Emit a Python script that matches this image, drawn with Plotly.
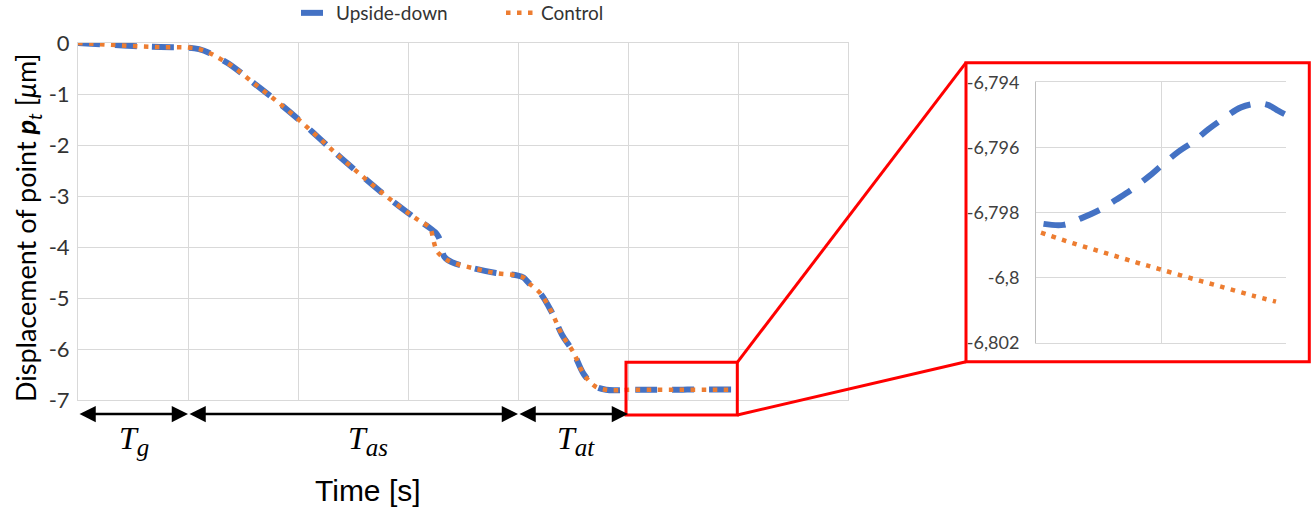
import plotly.graph_objects as go

# ---------------- data ----------------
time_main = [0.0, 0.25, 0.5, 0.75, 1.0, 1.1, 1.2, 1.3, 1.4, 1.6, 1.8, 2.0, 2.2, 2.4,
             2.6, 2.8, 3.0, 3.1, 3.2, 3.23, 3.26, 3.29, 3.33, 3.4, 3.6, 3.8, 4.0,
             4.05, 4.1, 4.2, 4.3, 4.4, 4.5, 4.6, 4.7, 4.8, 4.9]
upside_main = [0.0, -0.03, -0.06, -0.08, -0.09, -0.12, -0.2, -0.32, -0.45, -0.79, -1.13,
               -1.49, -1.88, -2.27, -2.64, -3.0, -3.33, -3.48, -3.63, -3.68, -3.74, -3.86,
               -4.19, -4.3, -4.42, -4.51, -4.56, -4.6, -4.71, -4.9, -5.25, -5.72, -6.05,
               -6.5, -6.73, -6.8, -6.81]
control_main = [0.0, -0.03, -0.06, -0.08, -0.09, -0.12, -0.2, -0.32, -0.45, -0.79, -1.13,
                -1.49, -1.88, -2.27, -2.64, -3.0, -3.33, -3.48, -3.63, -3.86, -4.07, -4.15,
                -4.22, -4.3, -4.42, -4.51, -4.56, -4.6, -4.71, -4.9, -5.25, -5.72, -6.05,
                -6.5, -6.73, -6.8, -6.81]

# zoomed (steady) region
zoom_time_upside = [5.03, 5.11, 5.18, 5.26, 5.32, 5.38, 5.45, 5.50, 5.57, 5.63, 5.69,
                    5.75, 5.82, 5.89, 5.93, 5.97, 6.0]
zoom_upside = [-6.79835, -6.79838, -6.79818, -6.7979, -6.79761, -6.79731, -6.7969,
               -6.79657, -6.79613, -6.79582, -6.79544, -6.79511, -6.79477, -6.79465,
               -6.7947, -6.79488, -6.795]
zoom_time_control = [5.02, 5.15, 5.28, 5.40, 5.49, 5.62, 5.75, 5.87, 5.96]
zoom_control = [-6.79862, -6.79895, -6.79925, -6.79953, -6.79973, -6.80002, -6.8003,
                -6.80056, -6.80074]

main_ticks = [0, -1, -2, -3, -4, -5, -6, -7]
main_ticktext = ["0", "-1", "-2", "-3", "-4", "-5", "-6", "-7"]
zoom_ticks = [-6.794, -6.796, -6.798, -6.800, -6.802]
zoom_ticktext = ["-6,794", "-6,796", "-6,798", "-6,8", "-6,802"]

phase_bounds = [0, 1, 4, 5]
phase_subs = ["g", "as", "at"]

BLUE = "#4472C4"
ORANGE = "#ED7D31"
GRID = "#D9D9D9"

# ---------------- layout geometry (pixels) ----------------
W, H = 1314, 507
L, R, T, B = 78, 1286, 43, 400
PW, PH = R - L, B - T


def px(x):
    return (x - L) / PW


def py(y):
    return 1 - (y - T) / PH


fig = go.Figure()

blue_line = dict(color=BLUE, width=6, dash="22px,15px")
orange_line = dict(color=ORANGE, width=4.5, dash="4.5px,6.5px")

fig.add_trace(go.Scatter(x=time_main + zoom_time_upside, y=upside_main + zoom_upside,
                         mode="lines", name="Upside-down", line=blue_line,
                         line_shape="spline", xaxis="x", yaxis="y"))
fig.add_trace(go.Scatter(x=time_main + zoom_time_control, y=control_main + zoom_control,
                         mode="lines", name="Control", line=orange_line,
                         line_shape="spline", xaxis="x", yaxis="y"))
fig.add_trace(go.Scatter(x=zoom_time_upside, y=zoom_upside, mode="lines",
                         line=blue_line, line_shape="spline", showlegend=False,
                         xaxis="x2", yaxis="y2"))
fig.add_trace(go.Scatter(x=zoom_time_control, y=zoom_control, mode="lines",
                         line=orange_line, line_shape="spline", showlegend=False,
                         xaxis="x2", yaxis="y2"))

tickfont = dict(family="Lato", size=22, color="#333333")

fig.update_layout(
    width=W, height=H,
    margin=dict(l=L, r=W - R, t=T, b=H - B, pad=0, autoexpand=False),
    paper_bgcolor="white", plot_bgcolor="white",
    showlegend=True,
    legend=dict(orientation="h", x=px(296), y=py(13), xanchor="left", yanchor="middle",
                font=dict(family="Lato", size=19, color="#333333"),
                entrywidth=160, tracegroupgap=0, bgcolor="rgba(0,0,0,0)"),
    xaxis=dict(domain=[0, px(848)], range=[0, 7], dtick=1, showticklabels=False,
               showgrid=True, gridcolor=GRID, gridwidth=1, zeroline=False,
               showline=True, linecolor=GRID, mirror=True, ticks=""),
    yaxis=dict(domain=[0, 1], range=[-7, 0], tickvals=main_ticks, ticktext=main_ticktext,
               showgrid=True, gridcolor=GRID, zeroline=False, showline=True,
               linecolor=GRID, mirror=True, ticks="", tickfont=tickfont,
               ticklabelstandoff=3),
    xaxis2=dict(domain=[px(1036), 1.0], range=[5.0, 6.0], dtick=0.5, anchor="y2",
                showticklabels=False, showgrid=True, gridcolor=GRID, zeroline=False,
                showline=True, linecolor=GRID, mirror=True, ticks=""),
    yaxis2=dict(domain=[py(342.7), py(82.3)], range=[-6.802, -6.794], anchor="x2",
                tickvals=zoom_ticks, ticktext=zoom_ticktext, showgrid=True,
                gridcolor=GRID, zeroline=False, showline=True, linecolor="#BFBFBF",
                ticks="", tickfont=dict(family="Lato", size=18, color="#404040"),
                ticklabelstandoff=12),
)

shapes = []
red = dict(color="#FF0000", width=3)
# small zoom box in main chart
shapes.append(dict(type="rect", xref="paper", yref="paper", x0=px(626), x1=px(737.3),
                   y0=py(415), y1=py(362.3), line=red, layer="above"))
# inset frame
shapes.append(dict(type="rect", xref="paper", yref="paper", x0=px(966), x1=px(1309.3),
                   y0=py(361.7), y1=py(62.7), line=red, layer="above"))
# connectors
shapes.append(dict(type="line", xref="paper", yref="paper", x0=px(737.3), y0=py(362.3),
                   x1=px(966), y1=py(62.7), line=red))
shapes.append(dict(type="line", xref="paper", yref="paper", x0=px(737.3), y0=py(415),
                   x1=px(966), y1=py(361.7), line=red))
fig.update_layout(shapes=shapes)

annotations = []
arrow_y = py(414)
for i in range(3):
    a, b = phase_bounds[i], phase_bounds[i + 1]
    annotations.append(dict(x=b, y=arrow_y, xref="x", yref="paper", ax=a, ay=0,
                            axref="x", ayref="pixel", text="", showarrow=True,
                            arrowhead=2, arrowside="end+start", arrowsize=1.3,
                            arrowwidth=2.5, arrowcolor="black", standoff=0,
                            startstandoff=0))
label_x = [134, 368, 576]
for sub, lx in zip(phase_subs, label_x):
    lab = ("<i>T</i><sub><span style='font-size:25px'><i>" + sub +
           "</i></span></sub>")
    annotations.append(dict(x=px(lx), y=py(440), xref="paper", yref="paper", text=lab,
                            showarrow=False, xanchor="center", yanchor="middle",
                            font=dict(family="Liberation Serif", size=32, color="black")))
annotations.append(dict(x=px(368), y=py(490), xref="paper", yref="paper",
                        text="Time [s]", showarrow=False, xanchor="center",
                        yanchor="middle",
                        font=dict(family="Liberation Sans", size=30, color="black")))
annotations.append(dict(x=px(27), y=py(228), xref="paper", yref="paper",
                        text="Displacement of point <b><i>p</i></b><sub><i>t</i></sub> [<i>μ</i>m]",
                        textangle=-90, showarrow=False, xanchor="center", yanchor="middle",
                        font=dict(family="Lato", size=27, color="black")))
fig.update_layout(annotations=annotations)

fig.write_html("out.html")
